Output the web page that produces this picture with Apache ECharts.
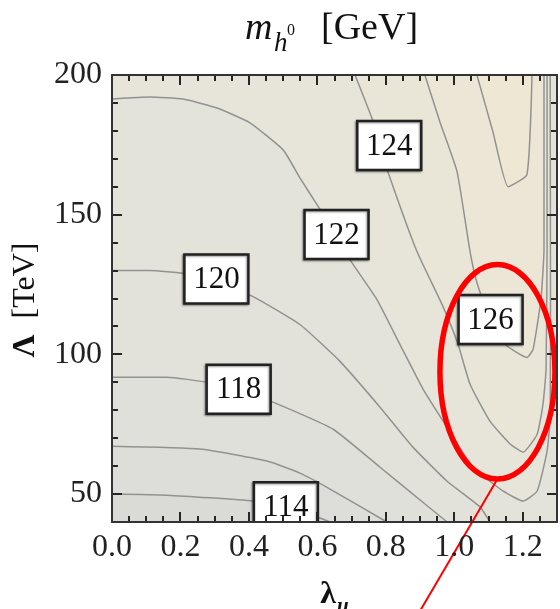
<!DOCTYPE html>
<html><head><meta charset="utf-8">
<script src="https://cdn.jsdelivr.net/npm/echarts@6/dist/echarts.min.js"></script>
<style>html,body{margin:0;padding:0;background:#fff}#c{width:560px;height:609px}</style>
</head><body><div id="c"></div>
<script>
// ---- data (λ_u, Λ [TeV]) ----
const xTickValues = [0, 0.2, 0.4, 0.6, 0.8, 1.0, 1.2];
const xMinorTickValues = [0.05,0.1,0.15,0.25,0.3,0.35,0.45,0.5,0.55,0.65,0.7,0.75,0.85,0.9,0.95,1.05,1.1,1.15,1.25];
const yTickValues = [50, 100, 150, 200];
const yMinorTickValues = [60,70,80,90,110,120,130,140,160,170,180,190];
const contourLevels = [114, 116, 118, 120, 122, 124, 126, 128];
const contour114 = [[0,50],[0.16,49.6],[0.412,47.5],[0.505,44.6],[0.599,41.8],[0.637,40]];
const contour116 = [[0,67.1],[0.257,66.1],[0.453,61.8],[0.549,57.5],[0.637,51.8],[0.803,40]];
const contour118 = [[0,91.8],[0.161,91.8],[0.278,90],[0.374,86.8],[0.47,82.9],[0.646,73.2],[0.783,59.6],[0.879,50],[0.979,40]];
const contour120 = [[0,130],[0.111,130],[0.213,128.9],[0.307,125.7],[0.412,120.7],[0.549,110.7],[0.666,97.5],[0.783,81.1],[0.879,66.8],[0.979,54.6],[1.075,45.4],[1.104,40]];
const contour122 = [[0,191.4],[0.111,192.1],[0.207,191.4],[0.307,188.2],[0.403,182.9],[0.5,173.2],[0.549,163.2],[0.599,153.6],[0.654,142.9],[0.695,133.9],[0.774,119.6],[0.841,103.6],[0.909,87.5],[0.979,73.9],[1.055,59.6],[1.142,51.1],[1.201,47.5],[1.242,51.1],[1.271,65.4],[1.28,77.5],[1.281,120],[1.28,200]];
const contour124 = [[0.71,200],[0.76,184.3],[0.783,175],[0.806,165.4],[0.891,136.8],[0.967,117.1],[1.011,103.6],[1.046,89.3],[1.104,76.1],[1.163,67.9],[1.201,65],[1.242,71.4],[1.259,82.1],[1.268,94.6],[1.271,137.5],[1.271,200]];
const contour126 = [[0.914,200],[0.958,183.2],[1.008,165.4],[1.046,136.8],[1.066,125.7],[1.104,112.5],[1.148,103.6],[1.212,98.9],[1.23,101.8],[1.253,119.6],[1.262,137.5],[1.262,200]];
const contour128 = [[1.066,200],[1.113,179.6],[1.157,160],[1.212,164.3],[1.227,200]];
const contours = [contour114, contour116, contour118, contour120, contour122, contour124, contour126, contour128];
// contour labels: text, λ_u, Λ
const labelTexts = ['124', '122', '120', '118', '114', '126'];
const labelLambda = [0.810, 0.656, 0.305, 0.370, 0.508, 1.106];
const labelBigLambda = [174.8, 142.9, 127, 87.5, 45.5, 112.5];
// red highlight: ellipse centre (λ_u, Λ), semi-axes (Δλ_u, ΔΛ); pointer line end
const highlightCentre = [1.126, 93.75];
const highlightSemiAxes = [0.168, 38.4];
const pointerEnd = [0.90, 8.2];

// ---- styles ----
const fillColors = ['#dddeda','#e0e0da','#e2e2da','#e4e3da','#e7e5d9','#e9e5d7','#ece6d6','#eee7d4'];
const baseColor = '#dadbd7';
const serif = '"Liberation Serif", "Times New Roman", serif';
const frameColor = '#333333';
const tickColor = '#262626';
const majorLen = 10, minorLen = 6;

const X0 = 0, X1 = 1.3, Y0 = 40, Y1 = 200;
const regionPolys = contours.map((c, i) => {
  if (i <= 3) return c.concat([[X1, Y0], [X1, Y1], [X0, Y1]]);
  if (i === 4) return c.concat([[X0, Y1]]);
  return c.slice();
});

// frame ticks on all four sides, pointing inward
const tickList = [];
const tickGroups = [['x', xTickValues, majorLen], ['x', xMinorTickValues, minorLen], ['y', yTickValues, majorLen], ['y', yMinorTickValues, minorLen]];
tickGroups.forEach(function (g) {
  g[1].forEach(function (v) {
    tickList.push({ ax: g[0], v: v, side: 0, len: g[2] });
    tickList.push({ ax: g[0], v: v, side: 1, len: g[2] });
  });
});

function mkX(pos, showLabel) {
  return {
    type: 'value', position: pos, min: X0, max: X1, gridIndex: 0,
    interval: 0.2, z: 50,
    axisLine: { show: true, onZero: false, lineStyle: { color: frameColor, width: 2 } },
    axisTick: { show: false },
    axisLabel: { show: showLabel,
      formatter: v => (Math.abs(v - 1.3) < 1e-6 ? '' : v.toFixed(1)),
      margin: 10, fontSize: 32, fontFamily: serif, color: '#222' },
    splitLine: { show: false }
  };
}
function mkY(pos, showLabel) {
  return {
    type: 'value', position: pos, min: Y0, max: Y1, gridIndex: 0,
    interval: 10, z: 50,
    axisLine: { show: true, onZero: false, lineStyle: { color: frameColor, width: 2 } },
    axisTick: { show: false },
    axisLabel: { show: showLabel,
      formatter: v => (v % 50 === 0 ? String(v) : ''),
      margin: 10, fontSize: 32, fontFamily: serif, color: '#222' },
    splitLine: { show: false }
  };
}

const series = [];
series.push({
  type: 'custom', coordinateSystem: 'cartesian2d', xAxisIndex: 0, yAxisIndex: 0,
  clip: true, silent: true, z: 1,
  data: regionPolys.map(() => [0.65, 120]),
  renderItem: (params, api) => {
    const pts = regionPolys[params.dataIndex].map(p => api.coord(p));
    return { type: 'polygon', shape: { points: pts }, style: { fill: fillColors[params.dataIndex] } };
  }
});
contours.forEach((c, i) => {
  series.push({
    type: 'line', name: String(contourLevels[i]), xAxisIndex: 0, yAxisIndex: 0,
    data: c, showSymbol: false, symbol: 'none', silent: true, clip: true, z: 3,
    lineStyle: { color: '#929290', width: 1.5 }, smooth: 0.15
  });
});
series.push({
  type: 'custom', coordinateSystem: 'cartesian2d', xAxisIndex: 0, yAxisIndex: 0,
  clip: true, silent: true, z: 4,
  data: labelTexts.map((t, i) => [labelLambda[i], labelBigLambda[i]]),
  renderItem: (params, api) => {
    const c = api.coord([api.value(0), api.value(1)]);
    const w = 64, h = 49;
    return { type: 'group', children: [
      { type: 'rect', shape: { x: c[0] - w / 2, y: c[1] - h / 2, width: w, height: h },
        style: { fill: '#fff', stroke: '#222', lineWidth: 2.5, shadowColor: 'rgba(0,0,0,0.4)', shadowBlur: 2, shadowOffsetX: -1, shadowOffsetY: 1 } },
      { type: 'text', x: c[0], y: c[1] + 1,
        style: { text: labelTexts[params.dataIndex], fontSize: 31, fontFamily: serif, fill: '#111',
          align: 'center', verticalAlign: 'middle', textAlign: 'center', textVerticalAlign: 'middle' } }
    ]};
  }
});
series.push({
  type: 'custom', coordinateSystem: 'cartesian2d', xAxisIndex: 0, yAxisIndex: 0,
  clip: false, silent: true, z: 20,
  data: [[0.65, 120]],
  renderItem: (params, api) => {
    const children = tickList.map(function (t) {
      let p, r;
      if (t.ax === 'x') {
        p = api.coord([t.v, t.side === 0 ? Y0 : Y1]);
        const x = Math.round(p[0]) - 1;
        r = { x: x, y: t.side === 0 ? p[1] - t.len : p[1], width: 2, height: t.len };
      } else {
        p = api.coord([t.side === 0 ? X0 : X1, t.v]);
        const y = Math.round(p[1]) - 1;
        r = { x: t.side === 0 ? p[0] : p[0] - t.len, y: y, width: t.len, height: 2 };
      }
      return { type: 'rect', shape: r, style: { fill: tickColor } };
    });
    return { type: 'group', children: children };
  }
});
series.push({
  type: 'custom', coordinateSystem: 'cartesian2d', xAxisIndex: 0, yAxisIndex: 0,
  clip: false, silent: true, z: 30,
  data: [highlightCentre],
  renderItem: (params, api) => {
    const c = api.coord(highlightCentre);
    const s = api.size(highlightSemiAxes);
    const bottom = api.coord([highlightCentre[0], highlightCentre[1] - highlightSemiAxes[1]]);
    const end = api.coord(pointerEnd);
    return { type: 'group', children: [
      { type: 'line', shape: { x1: bottom[0], y1: bottom[1], x2: end[0], y2: end[1] },
        style: { stroke: '#ff0000', lineWidth: 2 } },
      { type: 'ellipse', shape: { cx: c[0], cy: c[1], rx: s[0], ry: s[1] },
        style: { fill: null, stroke: '#ff0000', lineWidth: 5.5 } }
    ]};
  }
});

const option = {
  animation: false,
  backgroundColor: '#ffffff',
  grid: { left: 112, right: 3, top: 75, bottom: 87, show: true, backgroundColor: baseColor, borderWidth: 0 },
  xAxis: [ mkX('bottom', true), mkX('top', false) ],
  yAxis: [ mkY('left', true), mkY('right', false) ],
  series: series,
  graphic: [
    { type: 'text', x: 245, y: 29, style: { text: 'm', font: 'italic 38px ' + serif, fill: '#111', textVerticalAlign: 'middle', verticalAlign: 'middle' } },
    { type: 'text', x: 274, y: 44, style: { text: 'h', font: 'italic 27px ' + serif, fill: '#111', textVerticalAlign: 'middle', verticalAlign: 'middle' } },
    { type: 'text', x: 287, y: 31, style: { text: '0', font: '16px ' + serif, fill: '#111', textVerticalAlign: 'middle', verticalAlign: 'middle' } },
    { type: 'text', x: 321, y: 29, style: { text: '[GeV]', font: '38px ' + serif, fill: '#111', textVerticalAlign: 'middle', verticalAlign: 'middle' } },
    { type: 'text', x: 26, y: 300, rotation: Math.PI / 2, style: { text: '{b|Λ}  [TeV]', font: '32px ' + serif, fill: '#111', textAlign: 'center', align: 'center', textVerticalAlign: 'middle', verticalAlign: 'middle',
        rich: { b: { fontWeight: 'bold', fontSize: 32, fontFamily: serif, fill: '#111', color: '#111' } } } },
    { type: 'text', x: 328, y: 595, style: { text: 'λ', font: 'bold 32px ' + serif, fill: '#111', textAlign: 'center', align: 'center', textVerticalAlign: 'middle', verticalAlign: 'middle' } },
    { type: 'text', x: 337, y: 607, style: { text: 'u', font: 'bold italic 21px ' + serif, fill: '#111', textVerticalAlign: 'middle', verticalAlign: 'middle' } }
  ]
};
const chart = echarts.init(document.getElementById('c'), null, { renderer: 'canvas', width: 560, height: 609 });
chart.setOption(option);
</script>
</body></html>
